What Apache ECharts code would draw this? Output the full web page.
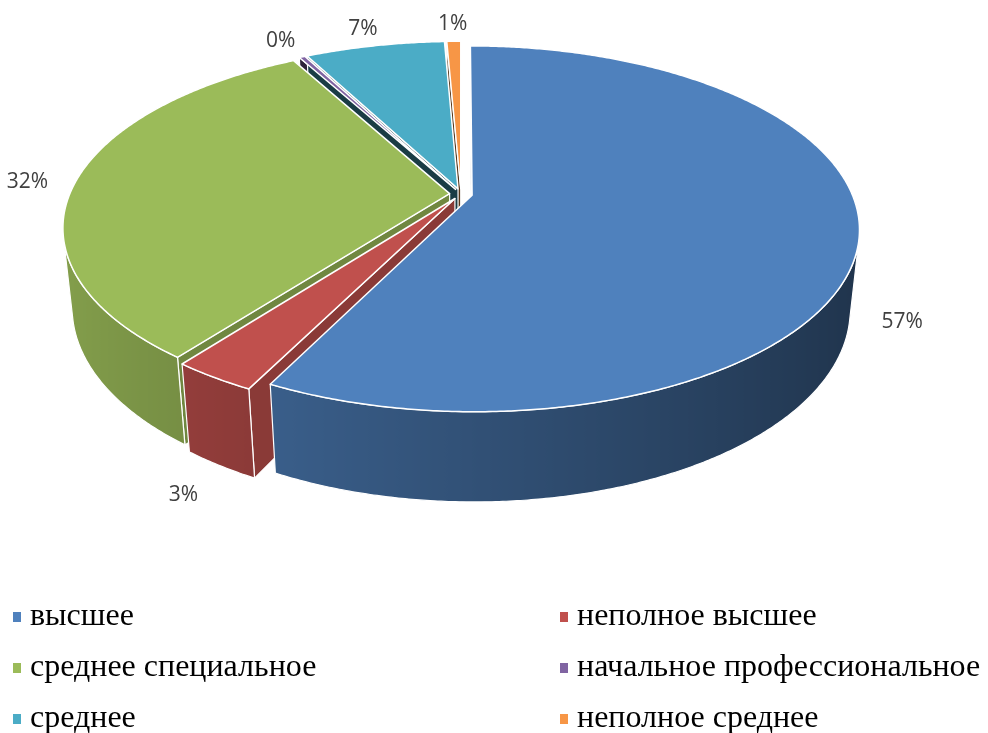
<!DOCTYPE html>
<html><head><meta charset="utf-8">
<script src="https://cdn.jsdelivr.net/npm/echarts@6/dist/echarts.min.js"></script>
<style>html,body{margin:0;padding:0;background:#fff}#c{width:988px;height:733px}</style>
</head><body><div id="c"></div>
<script>
// ---- data ----
const categories = ['высшее', 'неполное высшее', 'среднее специальное', 'начальное профессиональное', 'среднее', 'неполное среднее'];
const values = [57.4, 3.0, 31.6, 0.3, 7.0, 0.7];
const colors = ['#4f81bd', '#c0504d', '#9bbb59', '#8064a2', '#4bacc6', '#f79646'];
const leftLegend = [categories[0], categories[2], categories[4]];
const rightLegend = [categories[1], categories[3], categories[5]];

// ---- layout / projection (3D look) ----
const total = values.reduce((a, b) => a + b, 0);
const cum = [0];
values.forEach(v => cum.push(cum[cum.length - 1] + v));

const CX = 461, CY = 194, F = 1835, D = 4.83, SA = 0.464, CA = 0.886, H = 0.2396, E = 0.03;
const CAMV = -D * CA;
function proj(u, v, h) { const d = D + v * CA - h * SA; return [CX + F * u / d, CY - F * (v * SA + h * CA) / d]; }
function depthOf(u, v, h) { return D + v * CA - h * SA; }
function shade(hex, b) {
  const n = parseInt(hex.slice(1), 16);
  const r = Math.round(((n >> 16) & 255) * b), g = Math.round(((n >> 8) & 255) * b), bl = Math.round((n & 255) * b);
  return 'rgb(' + r + ',' + g + ',' + bl + ')';
}

function renderSlice(i, api) {
  const val = api.value(0);
  const a0 = cum[i] / total * 2 * Math.PI;
  const a1 = (cum[i] + val) / total * 2 * Math.PI;
  const m = (a0 + a1) / 2;
  const ox = E * Math.sin(m), oy = E * Math.cos(m);
  const pt = (r, t, h) => proj(ox + r * Math.sin(t), oy + r * Math.cos(t), h);
  const col = colors[i];
  const children = [];
  const n = Math.max(2, Math.ceil((a1 - a0) / 0.008));
  // top face
  const top = [proj(ox, oy, 0)];
  for (let k = 0; k <= n; k++) top.push(pt(1, a0 + (a1 - a0) * k / n, 0));
  children.push({ type: 'polygon', shape: { points: top }, style: { fill: col, stroke: '#fff', lineWidth: 1.5, lineJoin: 'round' }, z2: 5000 });
  // radial walls
  [[a0, [-Math.cos(a0), Math.sin(a0)]], [a1, [Math.cos(a1), -Math.sin(a1)]]].forEach(([t, nr]) => {
    const vis = (-ox) * nr[0] + (CAMV - oy) * nr[1];
    if (vis <= 0) return;
    const pts = [proj(ox, oy, 0), pt(1, t, 0), pt(1, t, -H), proj(ox, oy, -H)];
    const dep = depthOf(ox + 0.5 * Math.sin(t), oy + 0.5 * Math.cos(t), -H / 2);
    children.push({ type: 'polygon', shape: { points: pts }, style: { fill: shade(col, nr[0] > 0 ? 0.72 : 0.35), stroke: '#fff', lineWidth: 1.2, lineJoin: 'round' }, z2: Math.round((10 - dep) * 100) });
  });
  // outer wall (visible runs only)
  const runs = [];
  let cur = null;
  for (let k = 0; k <= n; k++) {
    const t = a0 + (a1 - a0) * k / n;
    const vis = -ox * Math.sin(t) - 1 + (CAMV - oy) * Math.cos(t);
    if (vis > 0) { if (!cur) { cur = []; runs.push(cur); } cur.push(t); }
    else cur = null;
  }
  runs.forEach(run => {
    if (run.length < 2) return;
    const topPts = run.map(t => pt(1, t, 0));
    const botPts = run.map(t => pt(1, t, -H)).reverse();
    let su = 0, sv = 0;
    run.forEach(t => { su += Math.sin(t); sv += Math.cos(t); });
    const dep = depthOf(ox + su / run.length, oy + sv / run.length, -H / 2);
    const xs = topPts.map(p => p[0]);
    const minx = Math.min(...xs), maxx = Math.max(...xs);
    const stops = run.map((t, k) => ({ offset: maxx > minx ? (xs[k] - minx) / (maxx - minx) : 0, color: shade(col, 0.625 - 0.232 * Math.sin(t)) }))
      .sort((p, q) => p.offset - q.offset);
    const fill = maxx > minx ? new echarts.graphic.LinearGradient(minx, 0, maxx, 0, stops, true) : shade(col, 0.6);
    children.push({ type: 'polygon', shape: { points: topPts.concat(botPts) }, style: { fill: fill, stroke: '#fff', lineWidth: 1.2, lineJoin: 'round' }, z2: Math.round((10 - dep) * 100) });
  });
  // data label
  const cm = Math.cos(m), sm = Math.sin(m);
  const rl = 1.13 + 0.04 * Math.max(0, cm);
  const hl = -H * Math.min(1, 4 * Math.max(0, -cm));
  const lp = proj(ox + rl * sm, oy + rl * cm, hl);
  children.push({ type: 'text', x: lp[0], y: lp[1] + (cm > -0.5 ? 3 : 0), z2: 9000,
    style: { text: Math.round(val / total * 100) + '%', fill: '#404040', fontSize: 21, fontFamily: 'Open Sans', align: 'center', verticalAlign: 'middle' } });
  return { type: 'group', children: children };
}

const chart = echarts.init(document.getElementById('c'), null, { renderer: 'canvas' });
const legendBase = {
  orient: 'vertical', top: 594, height: 150, itemWidth: 8, itemHeight: 10, itemGap: 15, icon: 'rect', selectedMode: false,
  itemStyle: { borderWidth: 0 },
  textStyle: { fontFamily: 'Liberation Serif', fontSize: 32, color: '#000', lineHeight: 36, padding: [0, 0, 0, 4] }
};
chart.setOption({
  backgroundColor: '#fff',
  animation: false,
  legend: [
    Object.assign({}, legendBase, { left: 8, data: leftLegend }),
    Object.assign({}, legendBase, { left: 555, data: rightLegend })
  ],
  series: categories.map((name, i) => ({
    type: 'custom', name: name, coordinateSystem: 'none', silent: true,
    itemStyle: { color: colors[i] },
    data: [[values[i]]],
    renderItem: (params, api) => renderSlice(i, api)
  }))
});
</script></body></html>
